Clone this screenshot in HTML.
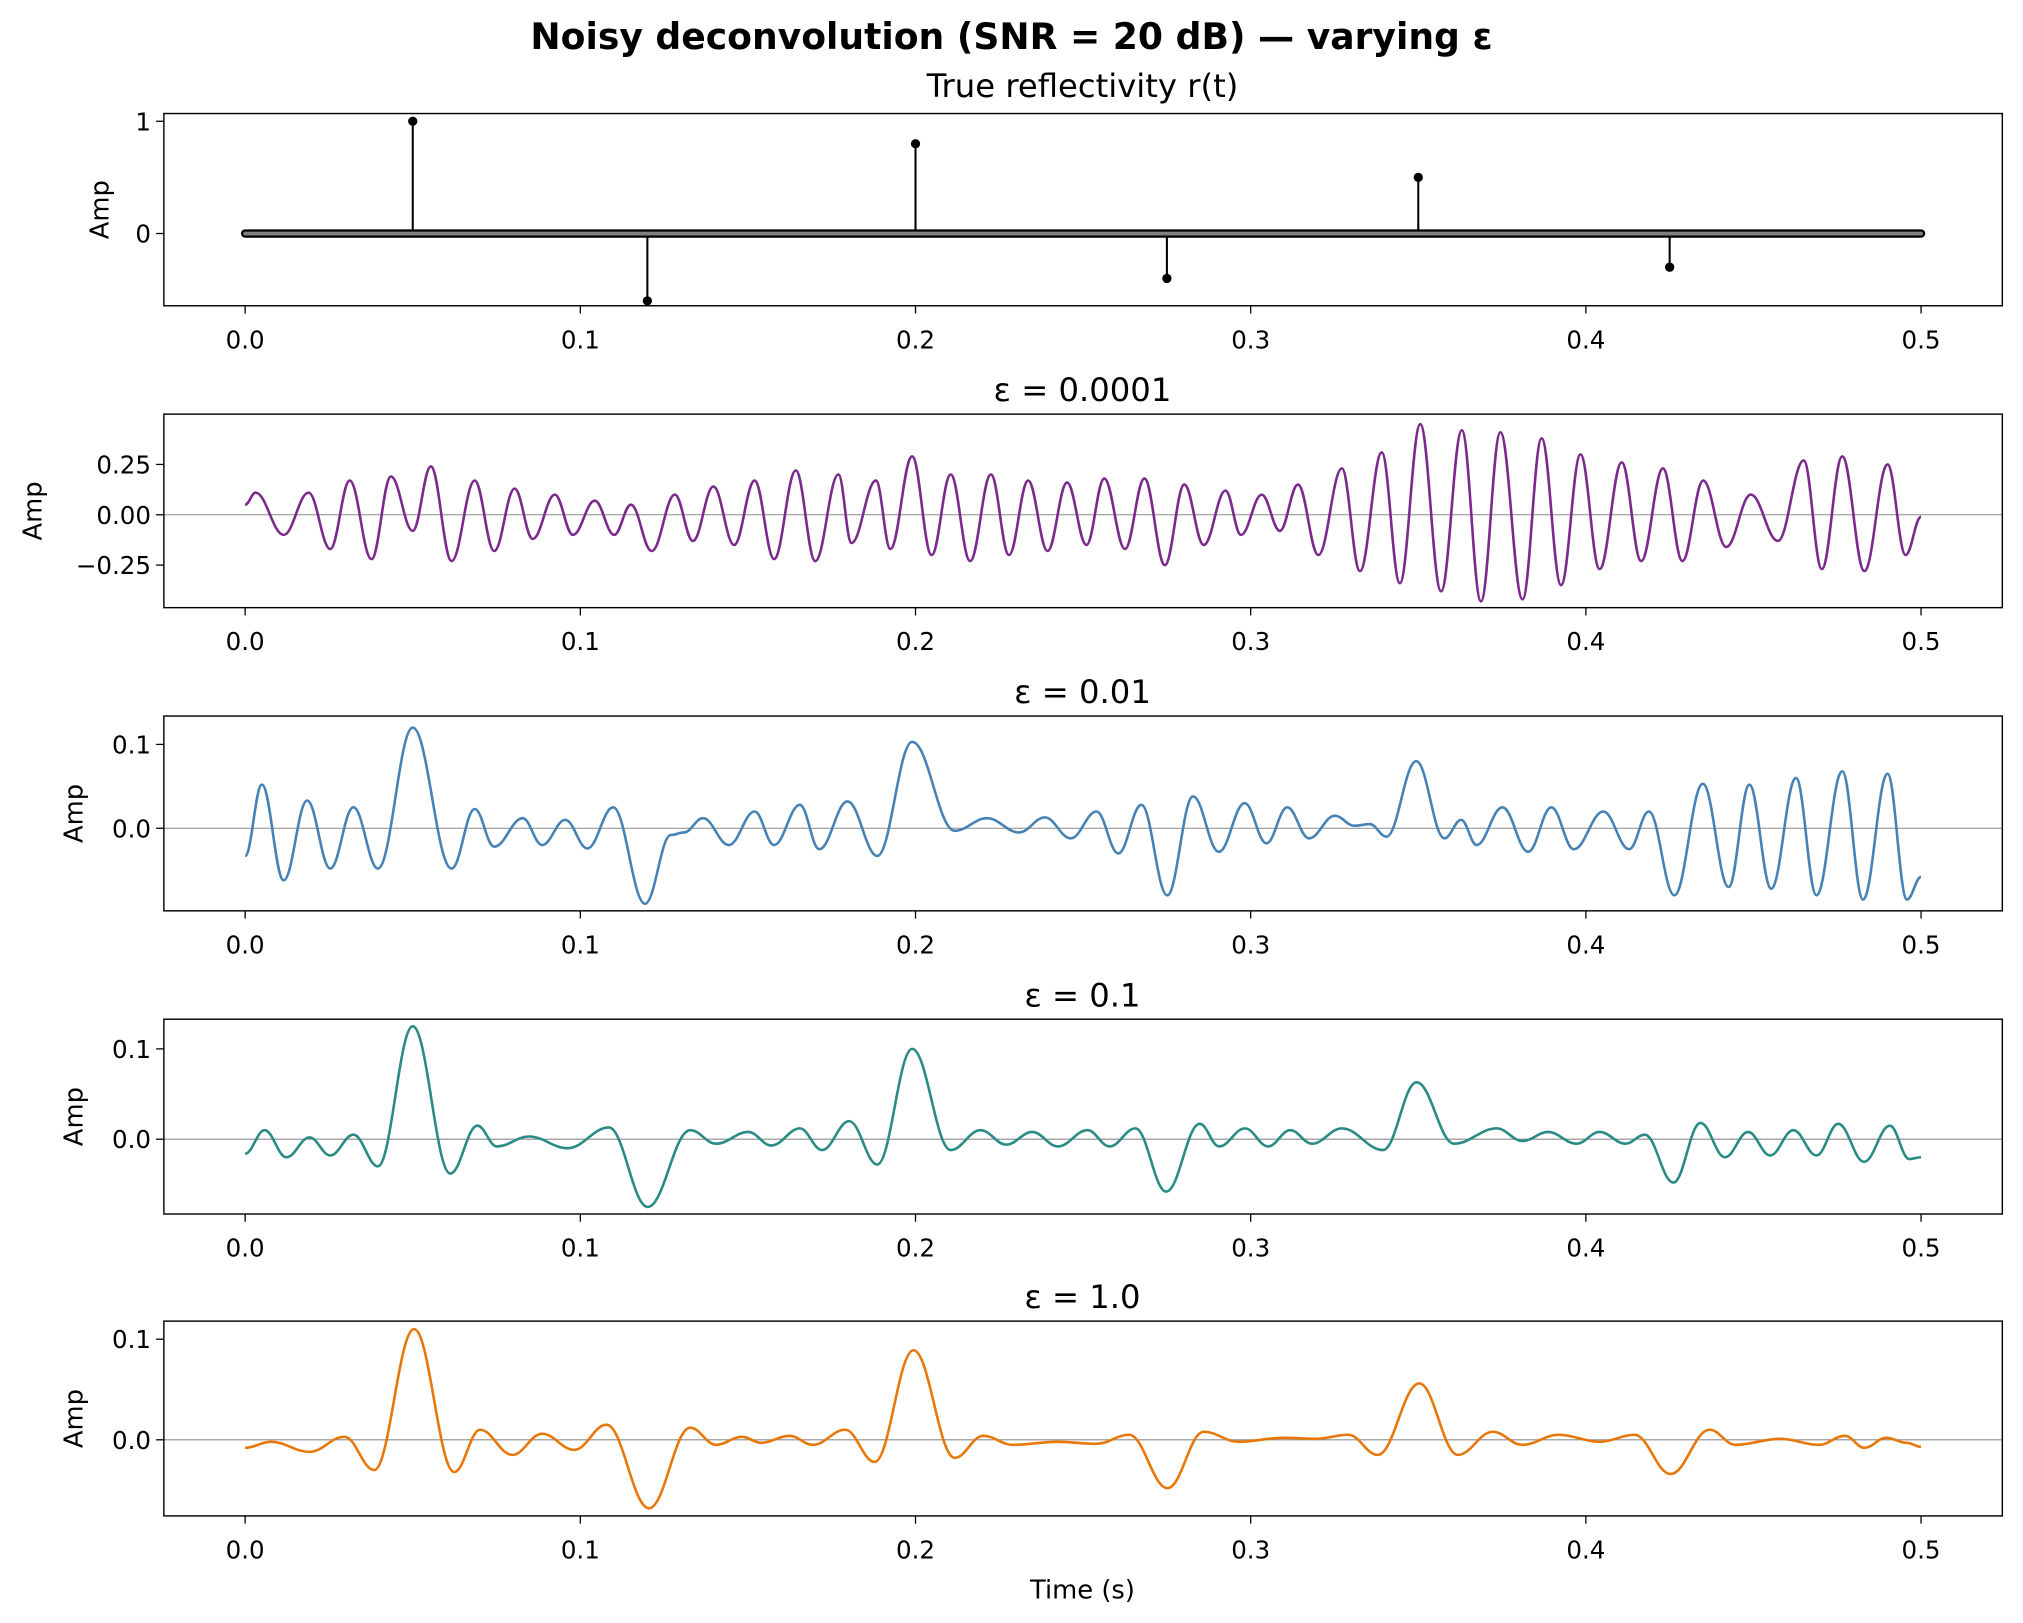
<!DOCTYPE html>
<html><head><meta charset="utf-8"><style>
html,body{margin:0;padding:0;background:#fff}
svg{display:block}
text{font-family:"DejaVu Sans","Liberation Sans",sans-serif;fill:#000}
</style></head><body>
<svg id="fig" width="2023" height="1623" viewBox="0 0 1568 1258" xmlns="http://www.w3.org/2000/svg">
<rect width="1568" height="1258" fill="#fff"/>
<text x="784" y="38" text-anchor="middle" font-size="28" font-weight="bold">Noisy deconvolution (SNR = 20 dB) — varying ε</text>
</svg>
<script>
// ---- data ----
const spikeTimes = [0.05, 0.12, 0.2, 0.275, 0.35, 0.425];
const spikeAmps = [1, -0.6, 0.8, -0.4, 0.5, -0.3];
const xTicks = [0.0, 0.1, 0.2, 0.3, 0.4, 0.5];
const xTickLabels = ["0.0","0.1","0.2","0.3","0.4","0.5"];

const eps1Ms = [0,3.1,11.5,18.9,25.4,31.2,37.7,43.5,50.0,55.4,61.6,68.5,74.3,80.4,85.8,92.4,97.8,104.3,110.1,115.1,121.3,128.2,133.6,139.7,145.9,152.0,157.8,164.3,170.1,177.0,180.9,188.2,192.5,199.0,204.8,210.5,216.3,222.5,227.9,233.6,239.4,245.2,251.0,256.3,262.5,268.3,274.4,280.2,286.0,292.5,297.1,303.3,308.7,314.1,320.2,327.2,332.6,339.1,344.5,350.6,356.8,363.0,368.7,374.5,381.1,386.8,392.6,398.4,404.1,410.7,416.5,423.0,428.8,435.0,441.9,449.2,457.3,465.0,470.4,476.5,483.1,490.0,495.4,500];
const eps1Vals = [0.05,0.11,-0.10,0.11,-0.17,0.17,-0.22,0.19,-0.08,0.24,-0.23,0.17,-0.18,0.13,-0.12,0.10,-0.10,0.07,-0.10,0.05,-0.18,0.10,-0.13,0.14,-0.15,0.17,-0.22,0.22,-0.23,0.20,-0.14,0.17,-0.17,0.29,-0.20,0.20,-0.23,0.20,-0.20,0.17,-0.18,0.16,-0.15,0.18,-0.17,0.18,-0.25,0.15,-0.15,0.12,-0.10,0.10,-0.08,0.15,-0.20,0.23,-0.28,0.31,-0.34,0.45,-0.38,0.42,-0.43,0.41,-0.42,0.38,-0.35,0.30,-0.27,0.26,-0.23,0.23,-0.23,0.17,-0.16,0.10,-0.13,0.27,-0.27,0.29,-0.28,0.25,-0.20,-0.01];

const eps2Ms = [0,5.0,11.5,18.5,25.4,32.3,39.6,50.0,61.6,68.5,74.3,82.8,88.6,95.5,102.1,109.8,119.3,127.0,130.9,136.6,144.3,152.0,157.8,165.5,171.3,179.7,188.6,199.0,211.7,221.3,230.9,238.6,246.3,254.0,260.5,267.4,275.1,282.8,290.5,298.2,304.7,310.9,317.4,325.1,330.9,335.5,340.5,349.4,357.8,362.8,367.4,375.1,382.8,389.7,396.4,405.2,412.9,418.8,426.4,434.9,442.6,448.8,455.3,462.7,468.8,476.5,482.7,490.0,495.8,500];
const eps2Vals = [-0.033,0.052,-0.062,0.033,-0.048,0.025,-0.048,0.12,-0.048,0.023,-0.022,0.012,-0.020,0.010,-0.024,0.025,-0.09,-0.008,-0.005,0.012,-0.02,0.02,-0.02,0.028,-0.025,0.032,-0.033,0.103,-0.003,0.012,-0.005,0.013,-0.012,0.02,-0.03,0.028,-0.08,0.038,-0.028,0.03,-0.018,0.025,-0.012,0.015,0.003,0.005,-0.01,0.08,-0.012,0.01,-0.02,0.025,-0.028,0.025,-0.025,0.02,-0.025,0.02,-0.08,0.053,-0.07,0.052,-0.072,0.06,-0.08,0.068,-0.085,0.065,-0.085,-0.058];

const eps3Ms = [0,5.8,12.3,19.2,25.4,32.3,39.6,50.0,61.2,69.3,75.1,84.7,96.2,108.5,120.1,132.8,140.5,150.1,157.0,165.5,172.1,180.2,188.6,199.0,210.5,219.4,227.1,234.8,242.5,251.3,257.9,265.6,274.8,284.8,290.6,298.3,305.2,311.8,318.3,327.2,339.5,349.5,360.7,373.4,381.1,388.7,397.2,404.1,411.8,417.6,426.1,434.2,441.5,448.4,455.0,461.9,468.8,475.3,483.0,490.7,496.5,500];
const eps3Vals = [-0.016,0.01,-0.02,0.002,-0.018,0.005,-0.03,0.125,-0.038,0.015,-0.008,0.003,-0.01,0.013,-0.075,0.01,-0.005,0.008,-0.007,0.012,-0.012,0.02,-0.028,0.1,-0.012,0.01,-0.006,0.008,-0.008,0.01,-0.008,0.012,-0.058,0.017,-0.008,0.012,-0.008,0.01,-0.005,0.012,-0.012,0.063,-0.005,0.012,-0.002,0.008,-0.005,0.008,-0.005,0.005,-0.048,0.018,-0.02,0.008,-0.018,0.01,-0.018,0.017,-0.025,0.015,-0.022,-0.02];

const eps4Ms = [0,7.7,19.2,29.6,38.5,50.4,62.4,70.1,79.7,88.6,98.2,107.8,120.5,132.8,140.5,148.2,154.0,162.4,169.4,179.0,187.8,199.4,211.7,220.2,229.0,242.5,254.0,263.7,275.2,286.0,296.4,309.8,319.5,329.1,337.9,350.3,361.8,372.2,381.1,391.8,404.1,414.5,425.3,436.9,444.6,458.0,469.6,477.3,483.1,489.6,495.7,500];
const eps4Vals = [-0.008,-0.002,-0.012,0.003,-0.03,0.11,-0.032,0.01,-0.015,0.006,-0.01,0.015,-0.068,0.012,-0.005,0.003,-0.003,0.004,-0.005,0.01,-0.022,0.089,-0.018,0.004,-0.005,-0.002,-0.004,0.005,-0.048,0.008,-0.002,0.002,0.001,0.005,-0.015,0.056,-0.015,0.008,-0.005,0.005,-0.002,0.005,-0.034,0.01,-0.005,0.001,-0.005,0.004,-0.008,0.002,-0.003,-0.007];

const panels = [
 {name:"eps-0.0001", title:"ε = 0.0001", top:321, bot:471, y0:399, ppu:156, ticks:[0.25,0,-0.25], labels:["0.25","0.00","−0.25"], ms:eps1Ms, vals:eps1Vals, color:"#7b2a8c", amp:32},
 {name:"eps-0.01", title:"ε = 0.01", top:555, bot:706, y0:642, ppu:650, ticks:[0.1,0], labels:["0.1","0.0"], ms:eps2Ms, vals:eps2Vals, color:"#4682b4", amp:64},
 {name:"eps-0.1", title:"ε = 0.1", top:790, bot:941, y0:883, ppu:700, ticks:[0.1,0], labels:["0.1","0.0"], ms:eps3Ms, vals:eps3Vals, color:"#2a8a84", amp:64},
 {name:"eps-1.0", title:"ε = 1.0", top:1024, bot:1175, y0:1116, ppu:780, ticks:[0.1,0], labels:["0.1","0.0"], ms:eps4Ms, vals:eps4Vals, color:"#e8770a", amp:64}
];

// ---- drawing ----
const NS="http://www.w3.org/2000/svg";
const svg=document.getElementById('fig');
const AX_L=127, AX_R=1552;
const xScale = t => 190 + t*2598;
function mk(tag, attrs, parent){
  const e=document.createElementNS(NS,tag);
  for(const k in attrs) e.setAttribute(k,attrs[k]);
  (parent||svg).appendChild(e);
  return e;
}
function xAxis(g, bot){
  xTicks.forEach((t,i)=>{
    const x=xScale(t);
    mk('line',{x1:x,x2:x,y1:bot,y2:bot+6,stroke:'#000','stroke-width':1},g);
    const tx=mk('text',{x:x,y:bot+33,'text-anchor':'middle','font-size':19},g);
    tx.textContent=xTickLabels[i];
  });
}
function yAxis(g, ticks, labels, yf){
  ticks.forEach((v,i)=>{
    const y=yf(v);
    mk('line',{x1:AX_L-6,x2:AX_L,y1:y,y2:y,stroke:'#000','stroke-width':1},g);
    const tx=mk('text',{x:AX_L-10,y:y+7,'text-anchor':'end','font-size':19},g);
    tx.textContent=labels[i];
  });
}
function frame(g, top, bot){
  mk('rect',{x:AX_L,y:top,width:AX_R-AX_L,height:bot-top,fill:'none',stroke:'#000','stroke-width':1.1},g);
}
function ylabel(g, x, top, bot){
  const cy=(top+bot)/2;
  const t=mk('text',{x:x,y:cy,'text-anchor':'middle','font-size':20,transform:`rotate(-90 ${x} ${cy})`},g);
  
  
  t.textContent='Amp';
}

// Panel 1: true reflectivity
(function(){
  const g=mk('g',{});
  
  
  const top=88, bot=237, y0=181, ppu=87;
  const yf=v=>y0-v*ppu;
  const tt=mk('text',{x:839,y:75,'text-anchor':'middle','font-size':25},g);
  
  
  tt.setAttribute('xml:space','preserve');
  tt.textContent='True reflectivity  r(t)';
  spikeTimes.forEach((t,i)=>{
    const s=mk('line',{x1:xScale(t),x2:xScale(t),y1:yf(0),y2:yf(spikeAmps[i]),stroke:'#000','stroke-width':1.6},g);
    
    
  });
  const b1=mk('line',{x1:xScale(0),x2:xScale(0.5),y1:yf(0),y2:yf(0),stroke:'#000','stroke-width':6.5,'stroke-linecap':'round'},g);
  
  
  mk('line',{x1:xScale(0),x2:xScale(0.5),y1:yf(0),y2:yf(0),stroke:'#808080','stroke-width':3,'stroke-linecap':'round'},g);
  spikeTimes.forEach((t,i)=>{
    const m=mk('circle',{cx:xScale(t),cy:yf(spikeAmps[i]),r:3.6,fill:'#000'},g);
    
    
  });
  frame(g,top,bot);
  xAxis(g,bot);
  yAxis(g,[1,0],["1","0"],yf);
  ylabel(g,84,top,bot);
})();

panels.forEach((p,pi)=>{
  const g=mk('g',{});
  
  
  const yf=v=>p.y0-v*p.ppu;
  const tt=mk('text',{x:839,y:p.top-10,'text-anchor':'middle','font-size':25},g);
  
  
  tt.textContent=p.title;
  const z=mk('line',{x1:AX_L,x2:AX_R,y1:yf(0),y2:yf(0),stroke:'#8c8c8c','stroke-width':0.8},g);
  
  
  const xs=p.ms.map(m=>xScale(m/1000)), ys=p.vals.map(yf);
  let d=`M${xs[0].toFixed(2)},${ys[0].toFixed(2)}`;
  for(let i=1;i<xs.length;i++){
    const dx=(xs[i]-xs[i-1])/2.6;
    d+=` C${(xs[i-1]+dx).toFixed(2)},${ys[i-1].toFixed(2)} ${(xs[i]-dx).toFixed(2)},${ys[i].toFixed(2)} ${xs[i].toFixed(2)},${ys[i].toFixed(2)}`;
  }
  const path=mk('path',{d:d,fill:'none',stroke:p.color,'stroke-width':2,'stroke-linejoin':'round'},g);
  
  
  frame(g,p.top,p.bot);
  xAxis(g,p.bot);
  yAxis(g,p.ticks,p.labels,yf);
  ylabel(g,p.amp,p.top,p.bot);
});

const xl=mk('text',{x:839,y:1239,'text-anchor':'middle','font-size':20});


xl.textContent='Time (s)';
</script>
</body></html>
